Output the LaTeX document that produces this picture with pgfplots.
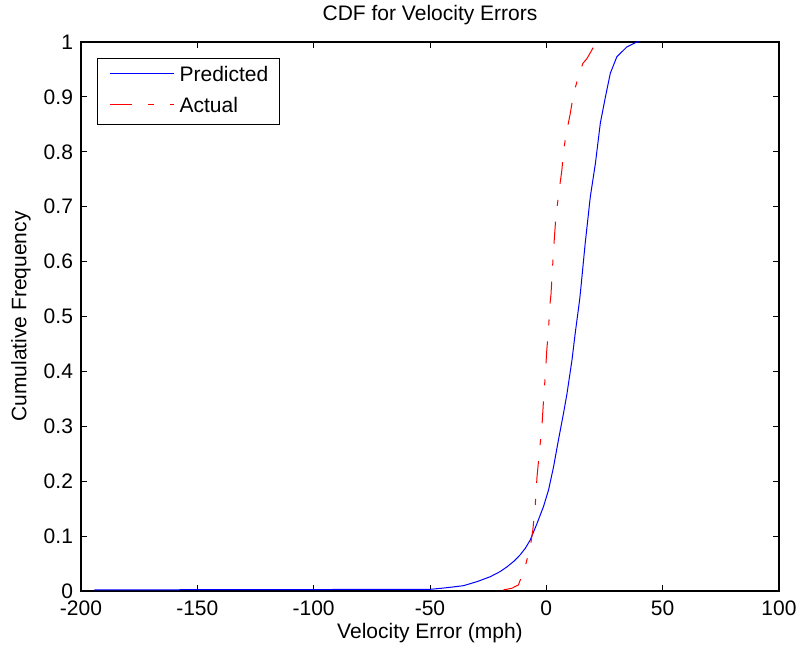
\documentclass[border=0pt]{standalone}
\usepackage{fontspec}
\setmainfont{Liberation Sans}
\usepackage{pgfplots}
\pgfplotsset{compat=1.18}
\begin{document}
\begin{tikzpicture}
\path[use as bounding box] (-40.5pt,-30pt) rectangle (359.5pt,295.5pt);
\begin{axis}[
  at={(0pt,0pt)}, anchor=south west,
  scale only axis, width=349pt, height=274.5pt,
  xmin=-200, xmax=100, ymin=0, ymax=1,
  xtick={-200,-150,...,100},
  ytick={0,0.1,...,1.0001},
  yticklabels={0,0.1,0.2,0.3,0.4,0.5,0.6,0.7,0.8,0.9,1},
  tick align=inside, major tick length=3pt,
  every tick/.style={black, line width=0.4pt},
  axis line style={black, line width=0.6pt},
  /pgf/number format/assume math mode=true,
  tick label style={font=\fontsize{10.5}{12.6}\selectfont},
  xticklabel style={yshift=-1.5pt},
  yticklabel style={xshift=-0.5pt},
  title={CDF for Velocity Errors},
  xlabel={Velocity Error (mph)},
  ylabel={Cumulative Frequency},
  every axis title/.style={at={(axis description cs:0.5,1)}, yshift=13.5pt, anchor=center, font=\fontsize{10.5}{12.6}\selectfont},
  every axis x label/.style={at={(axis description cs:0.5,0)}, yshift=-21pt, anchor=center, font=\fontsize{10.5}{12.6}\selectfont},
  every axis y label/.style={at={(axis description cs:0,0.5)}, xshift=-30pt, rotate=90, anchor=center, font=\fontsize{10.5}{12.6}\selectfont},
  legend style={at={(0.0229,0.9716)}, anchor=north west, fill=none, line width=0.6pt,
    inner xsep=4.5pt, inner ysep=3pt, row sep=3.8pt, column sep=3pt,
    font=\fontsize{10.5}{12.6}\selectfont,
    nodes={inner sep=1pt, text height=7.5pt, text depth=2.2pt}},
  legend cell align=left,
  legend image code/.code={\draw[#1, draw opacity=0, opacity=0] (0pt,0pt) -- (32pt,0pt);},
]
\addplot[blue, line width=0.5pt] coordinates {
(-194.2,0.002) (-50,0.003) (-45,0.005) (-41.3,0.0067) (-35.6,0.0097) (-29.8,0.017)
(-24.1,0.026) (-20,0.035) (-16.9,0.044) (-14,0.054) (-11.2,0.066) (-9,0.078)
(-6.9,0.093) (-4.0,0.123) (-1.2,0.154) (0.95,0.184) (3.1,0.226) (5.2,0.275)
(7.4,0.324) (8.9,0.36) (11.0,0.42) (12.4,0.469) (14.3,0.53) (14.8,0.55)
(16.7,0.633) (18.9,0.718) (21.1,0.779) (23.2,0.852) (25.4,0.900) (27.5,0.943)
(30.3,0.973) (34.6,0.991) (38.9,1.0) (40.3,1.0)
};
\addlegendentry{Predicted}
\addplot[red, line width=0.5pt, dash pattern=on 11pt off 8pt on 3pt off 8pt] coordinates {
(-18.4,0.002) (-14.8,0.005) (-12.0,0.011) (-9.1,0.044) (-6.9,0.081) (-5.8,0.111)
(-4.8,0.154) (-4.0,0.208) (-2.9,0.257) (-1.9,0.299) (-1.2,0.348) (-0.5,0.39)
(0.2,0.439) (0.9,0.475) (1.6,0.524) (2.0,0.54) (3.1,0.621) (4.1,0.682)
(5.7,0.736) (6.7,0.767) (7.4,0.803) (8.9,0.840) (10.3,0.87) (11.7,0.906)
(13.8,0.937) (15.7,0.961) (17.5,0.970) (20.3,0.991) (23.2,1.0)
};
\addlegendentry{Actual}
% legend sample lines (drawn through the axis so that they keep their colour)
\addplot[blue, line width=0.5pt, forget plot] coordinates {(-187.4,0.943) (-159.9,0.943)};
\addplot[red, line width=0.5pt, dash pattern=on 11pt off 8pt on 3pt off 8pt, forget plot] coordinates {(-187.4,0.886) (-159.9,0.886)};
\end{axis}
\end{tikzpicture}
\end{document}
